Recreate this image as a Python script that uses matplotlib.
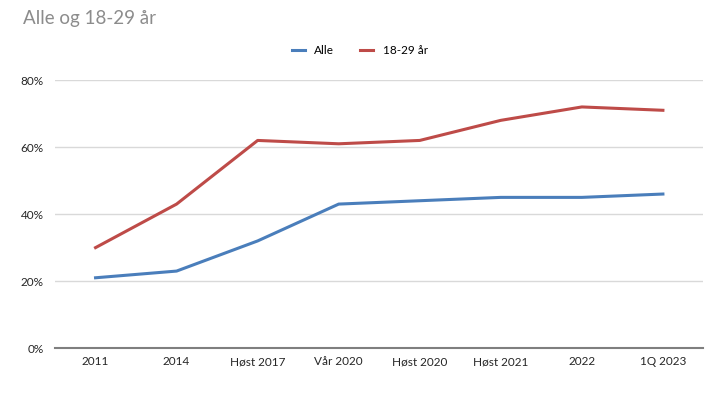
import matplotlib.pyplot as plt
from matplotlib.ticker import PercentFormatter

plt.rcParams['font.family'] = ['Lato', 'DejaVu Sans']

categories = ['2011', '2014', 'Høst 2017', 'Vår 2020', 'Høst 2020', 'Høst 2021', '2022', '1Q 2023']
alle = [21, 23, 32, 43, 44, 45, 45, 46]
ung = [30, 43, 62, 61, 62, 68, 72, 71]

fig = plt.figure(figsize=(7.2, 4.11), dpi=100)
ax = fig.add_axes([0.0764, 0.153, 0.9006, 0.652])

x = range(len(categories))
ax.plot(x, alle, color='#4a7ebb', lw=2.2, label='Alle')
ax.plot(x, ung, color='#be4b48', lw=2.2, label='18-29 år')

ax.set_xlim(-0.5, len(categories) - 0.5)
ax.set_ylim(0, 80)
ax.set_yticks([0, 20, 40, 60, 80])
ax.yaxis.set_major_formatter(PercentFormatter(decimals=0))
ax.set_xticks(list(x))
ax.set_xticklabels(categories)
ax.grid(axis='y', color='#d9d9d9', lw=1)
ax.set_axisbelow(True)
for s in ['top', 'right', 'left']:
    ax.spines[s].set_visible(False)
ax.spines['bottom'].set_color('#7f7f7f')
ax.spines['bottom'].set_linewidth(1.5)
ax.tick_params(length=0, labelsize=8.5, colors='#262626')
ax.tick_params(axis='x', pad=6)
ax.tick_params(axis='y', pad=8)

fig.text(0.032, 0.955, 'Alle og 18-29 år', fontsize=13.5, color='#8c8c8c', va='center')
fig.legend(loc='center', bbox_to_anchor=(0.5, 0.878), ncol=2, frameon=False,
           fontsize=8.5, handlelength=1.1, columnspacing=2.2)

fig.savefig('out.png', dpi=100)
